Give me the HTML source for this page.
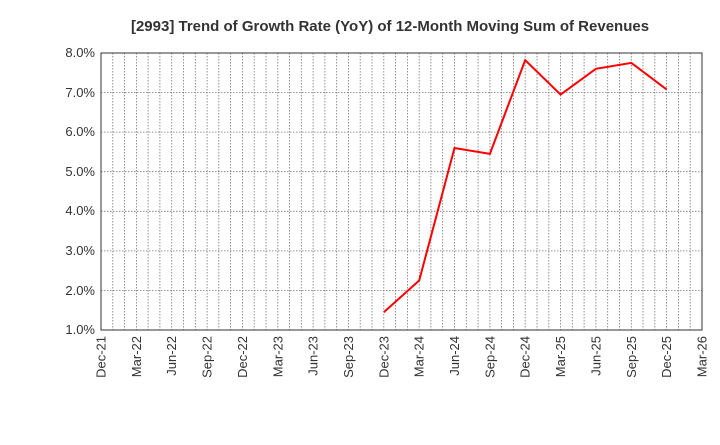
<!DOCTYPE html>
<html><head><meta charset="utf-8"><style>body{margin:0;background:#fff}</style></head><body>
<svg width="720" height="440" xmlns="http://www.w3.org/2000/svg" font-family="Liberation Sans, sans-serif">
<rect width="720" height="440" fill="#fff"/>
<text x="390" y="31" text-anchor="middle" font-size="15" font-weight="bold" fill="#333">[2993]  Trend of Growth Rate (YoY) of 12-Month Moving Sum of Revenues</text>
<g stroke="#777" stroke-width="0.8" stroke-dasharray="1.5,1.5" fill="none">
<path d="M101 92.6H702M101 132.1H702M101 171.7H702M101 211.3H702M101 250.9H702M101 290.4H702"/>
<path d="M112.8 53V330M124.6 53V330M136.4 53V330M148.1 53V330M159.9 53V330M171.7 53V330M183.5 53V330M195.3 53V330M207.1 53V330M218.8 53V330M230.6 53V330M242.4 53V330M254.2 53V330M266 53V330M277.8 53V330M289.5 53V330M301.3 53V330M313.1 53V330M324.9 53V330M336.7 53V330M348.5 53V330M360.2 53V330M372 53V330M383.8 53V330M395.6 53V330M407.4 53V330M419.2 53V330M430.9 53V330M442.7 53V330M454.5 53V330M466.3 53V330M478.1 53V330M489.9 53V330M501.6 53V330M513.4 53V330M525.2 53V330M537 53V330M548.8 53V330M560.6 53V330M572.3 53V330M584.1 53V330M595.9 53V330M607.7 53V330M619.5 53V330M631.3 53V330M643 53V330M654.8 53V330M666.6 53V330M678.4 53V330M690.2 53V330"/>
</g>
<rect x="101" y="53" width="601" height="277" fill="none" stroke="#333" stroke-width="1"/>
<polyline fill="none" stroke="#f00" stroke-width="2" points="383.8,312.2 419.2,280.5 454.5,148 489.9,153.9 525.2,60.1 560.6,94.6 595.9,68.8 631.3,62.9 666.6,89.4"/>
<g font-size="13" fill="#333" text-anchor="end">
<text x="95" y="57">8.0%</text><text x="95" y="97">7.0%</text><text x="95" y="136">6.0%</text><text x="95" y="176">5.0%</text><text x="95" y="215">4.0%</text><text x="95" y="255">3.0%</text><text x="95" y="295">2.0%</text><text x="95" y="334">1.0%</text>
</g>
<g font-size="13" fill="#333" text-anchor="end">
<text transform="translate(105.5,336) rotate(-90)">Dec-21</text>
<text transform="translate(140.9,336) rotate(-90)">Mar-22</text>
<text transform="translate(176.2,336) rotate(-90)">Jun-22</text>
<text transform="translate(211.6,336) rotate(-90)">Sep-22</text>
<text transform="translate(246.9,336) rotate(-90)">Dec-22</text>
<text transform="translate(282.3,336) rotate(-90)">Mar-23</text>
<text transform="translate(317.6,336) rotate(-90)">Jun-23</text>
<text transform="translate(353,336) rotate(-90)">Sep-23</text>
<text transform="translate(388.3,336) rotate(-90)">Dec-23</text>
<text transform="translate(423.7,336) rotate(-90)">Mar-24</text>
<text transform="translate(459,336) rotate(-90)">Jun-24</text>
<text transform="translate(494.4,336) rotate(-90)">Sep-24</text>
<text transform="translate(529.7,336) rotate(-90)">Dec-24</text>
<text transform="translate(565.1,336) rotate(-90)">Mar-25</text>
<text transform="translate(600.4,336) rotate(-90)">Jun-25</text>
<text transform="translate(635.8,336) rotate(-90)">Sep-25</text>
<text transform="translate(671.1,336) rotate(-90)">Dec-25</text>
<text transform="translate(706.5,336) rotate(-90)">Mar-26</text>
</g>
</svg>
</body></html>
